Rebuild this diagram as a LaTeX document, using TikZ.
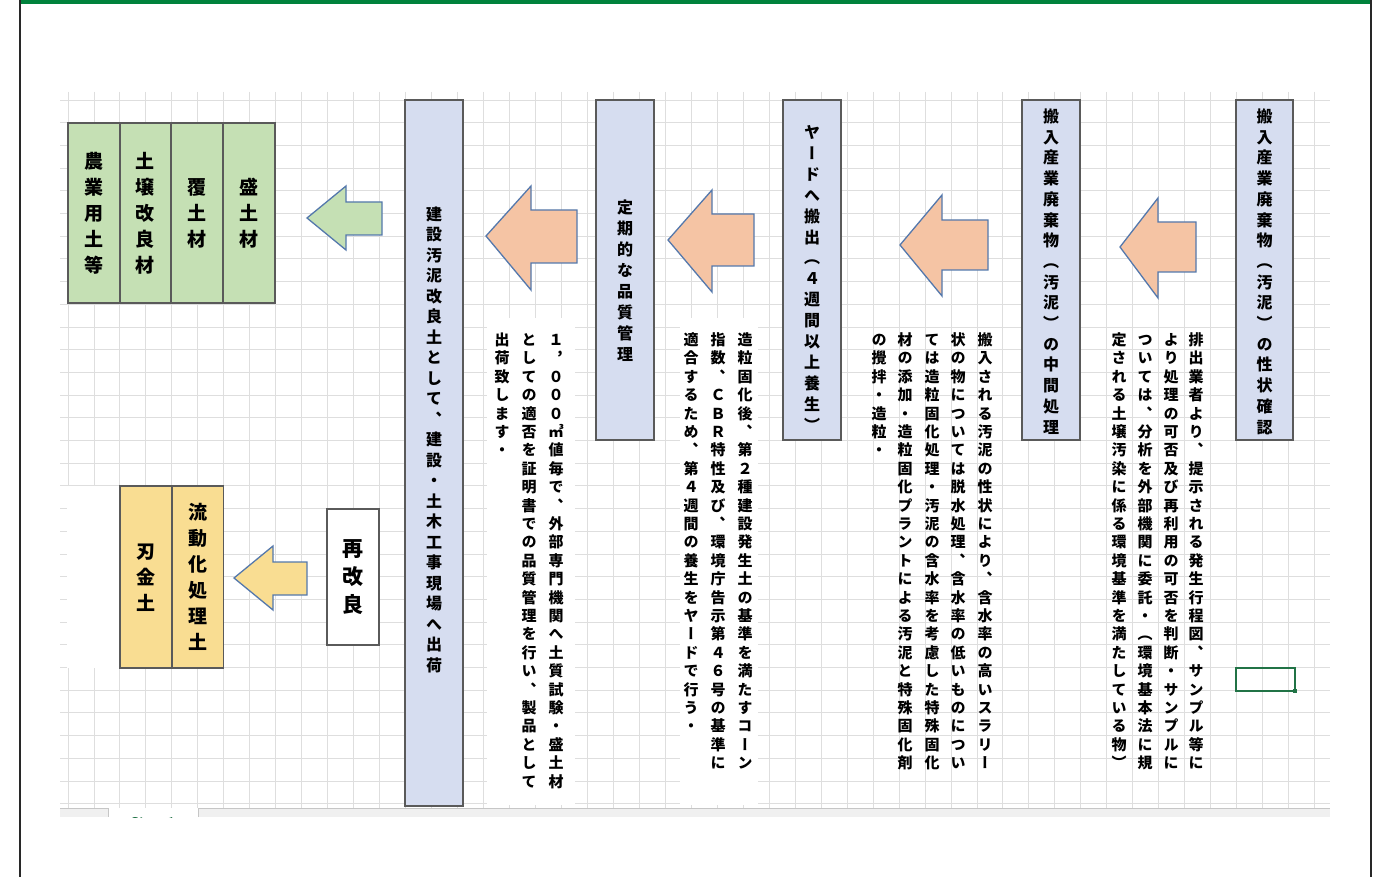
\documentclass[tikz,border=0pt]{standalone}
\usepackage{fontspec}
\newfontfamily\jp{Noto Sans CJK JP}[RawFeature=+vert]
\definecolor{lav}{RGB}{214,221,240}
\definecolor{boxline}{RGB}{90,90,90}
\definecolor{salmon}{RGB}{245,196,164}
\definecolor{arrline}{RGB}{84,120,172}
\definecolor{lgreen}{RGB}{197,224,180}
\definecolor{lyellow}{RGB}{249,221,146}
\definecolor{framegreen}{RGB}{0,130,60}
\definecolor{framedark}{RGB}{40,40,40}
\definecolor{gridc}{RGB}{222,222,222}
\definecolor{xlgreen}{RGB}{33,115,70}
\ExplSyntaxOn
\dim_new:N \l_vt_pitch_dim
\NewDocumentCommand \vtext { m m }
  {
    \dim_set:Nn \l_vt_pitch_dim {#1}
    \vbox:n
      {
        \offinterlineskip
        \tl_map_inline:nn {#2}
          {
            \hbox_to_wd:nn {1.2em}
              { \hss \vrule ~ height ~ 0.78\l_vt_pitch_dim ~ depth ~ 0.22\l_vt_pitch_dim ~ width ~ 0pt \relax ##1 \hss }
          }
      }
  }
\ExplSyntaxOff
\tikzset{
  gridline/.style={draw=gridc, line width=0.9pt},
  procbox/.style={draw=boxline, fill=lav, line width=1.6pt, inner sep=0pt},
  greenbox/.style={draw=boxline, fill=lgreen, line width=1.3pt, inner sep=0pt, minimum width=52pt, minimum height=180pt},
  yellowbox/.style={draw=boxline, fill=lyellow, line width=1.3pt, inner sep=0pt, minimum width=52pt, minimum height=182pt},
  ttl/.style={inner sep=0pt, font=\jp\bfseries\fontsize{16}{20}\selectfont},
  desc/.style={inner sep=0pt, anchor=north, font=\jp\bfseries\fontsize{15}{18}\selectfont},
  biglabel/.style={inner sep=0pt, font=\jp\bfseries\fontsize{19}{24}\selectfont},
  blockarrow/.style={draw=arrline, line width=1.3pt, line join=miter},
}
\begin{document}
\begin{tikzpicture}[x=1pt,y=-1pt]
\useasboundingbox (0,0) rectangle (1382,877);
\fill[white] (0,0) rectangle (1382,877);
% spreadsheet grid
\foreach \k in {0,...,48} \draw[gridline] ({68+25.97*\k},92) -- ({68+25.97*\k},808);
\foreach \k in {0,...,31} \draw[gridline] (60,{100+22.7*\k}) -- (1330,{100+22.7*\k});
% white text areas covering the grid
\fill[white] (67,486) rectangle (120,668);
\fill[white] (680,318) rectangle (758,805);
\fill[white] (487,318) rectangle (575,805);
% sheet tab bar
\fill[gray!12] (60,808) rectangle (1330,817);
\draw[gray!45, line width=0.8pt] (60,808) -- (1330,808);
\fill[white] (108,808) rectangle (198,817);
\draw[gray!45, line width=0.8pt] (108,808) -- (108,817) (198,808) -- (198,817);
\begin{scope}
\clip (60,808) rectangle (1330,817);
\node[text=xlgreen, font=\sffamily\bfseries\fontsize{14}{14}\selectfont, inner sep=0pt] (tab) at (153,823) {Sheet1};
\end{scope}
% frame
\fill[framegreen] (19,0) rectangle (1371,4);
\draw[framedark, line width=2.2pt] (20,0) -- (20,877);
\draw[framedark, line width=2.2pt] (1371,0) -- (1371,877);

% process boxes
\node[procbox, minimum width=57pt, minimum height=340pt] (b1) at (1264.5,270) {};
\node[ttl] (t1) at (1264.5,272) {\vtext{20.7pt}{搬入産業廃棄物（汚泥）の性状確認}};
\node[procbox, minimum width=58pt, minimum height=340pt] (b2) at (1051,270) {};
\node[ttl] (t2) at (1051,272) {\vtext{20.7pt}{搬入産業廃棄物（汚泥）の中間処理}};
\node[procbox, minimum width=58pt, minimum height=340pt] (b3) at (812,270) {};
\node[ttl] (t3) at (812,279) {\vtext{20.9pt}{ヤードへ搬出（４週間以上養生）}};
\node[procbox, minimum width=58pt, minimum height=340pt] (b4) at (625,270) {};
\node[ttl] (t4) at (625,281) {\vtext{21pt}{定期的な品質管理}};
\node[procbox, minimum width=58pt, minimum height=706pt] (b5) at (434,453) {};
\node[ttl] (t5) at (434,440) {\vtext{20.5pt}{建設汚泥改良土として、建設・土木工事現場へ出荷}};

% block arrows
\draw[blockarrow, fill=salmon] (1120,247) -- (1158,198) -- (1158,222) -- (1196,222) -- (1196,272) -- (1158,272) -- (1158,298) -- cycle;
\draw[blockarrow, fill=salmon] (900,245) -- (942,195) -- (942,220) -- (988,220) -- (988,270) -- (942,270) -- (942,296) -- cycle;
\draw[blockarrow, fill=salmon] (668,240) -- (712,190) -- (712,214) -- (754,214) -- (754,266) -- (712,266) -- (712,292) -- cycle;
\draw[blockarrow, fill=salmon] (486,236) -- (531,186) -- (531,210) -- (577,210) -- (577,263) -- (531,263) -- (531,290) -- cycle;
\draw[blockarrow, fill=lgreen] (307,218) -- (346,186) -- (346,202) -- (382,202) -- (382,235) -- (346,235) -- (346,250) -- cycle;
\draw[blockarrow, fill=lyellow] (234,578) -- (273,546) -- (273,562) -- (307,562) -- (307,595) -- (273,595) -- (273,610) -- cycle;

% descriptions
\node[desc] (d1a) at (1196,331) {\vtext{18.4pt}{排出業者より、提示される発生行程図、サンプル等に}};
\node[desc] (d1b) at (1171,331) {\vtext{18.4pt}{より処理の可否及び再利用の可否を判断・サンプルに}};
\node[desc] (d1c) at (1145,331) {\vtext{18.4pt}{ついては、分析を外部機関に委託・（環境基本法に規}};
\node[desc] (d1d) at (1119,331) {\vtext{18.4pt}{定される土壌汚染に係る環境基準を満たしている物）}};

\node[desc] (d2a) at (985,331) {\vtext{18.4pt}{搬入される汚泥の性状により、含水率の高いスラリー}};
\node[desc] (d2b) at (958,331) {\vtext{18.4pt}{状の物については脱水処理、含水率の低いものについ}};
\node[desc] (d2c) at (932,331) {\vtext{18.4pt}{ては造粒固化処理・汚泥の含水率を考慮した特殊固化}};
\node[desc] (d2d) at (905,331) {\vtext{18.4pt}{材の添加・造粒固化プラントによる汚泥と特殊固化剤}};
\node[desc] (d2e) at (879,331) {\vtext{18.4pt}{の攪拌・造粒・}};

\node[desc] (d3a) at (745,331) {\vtext{18.4pt}{造粒固化後、第２種建設発生土の基準を満たすコーン}};
\node[desc] (d3b) at (718,331) {\vtext{18.4pt}{指数、ＣＢＲ特性及び、環境庁告示第４６号の基準に}};
\node[desc] (d3c) at (691,331) {\vtext{18.4pt}{適合するため、第４週間の養生をヤードで行う・}};

\node[desc] (d4a) at (556,331) {\vtext{18.4pt}{１，０００㎥値毎で、外部専門機関へ土質試験・盛土材}};
\node[desc] (d4b) at (529,331) {\vtext{18.4pt}{としての適否を証明書での品質管理を行い、製品として}};
\node[desc] (d4c) at (502,331) {\vtext{18.4pt}{出荷致します・}};

% products (green)
\node[greenbox] (g4) at (249,213) {};
\node[greenbox] (g3) at (197,213) {};
\node[greenbox] (g2) at (145,213) {};
\node[greenbox] (g1) at (94,213) {};
\node[biglabel] at (g4.center) {\vtext{26pt}{盛土材}};
\node[biglabel] at (g3.center) {\vtext{26pt}{覆土材}};
\node[biglabel] at (g2.center) {\vtext{26pt}{土壌改良材}};
\node[biglabel] at (g1.center) {\vtext{26pt}{農業用土等}};

% products (yellow)
\node[yellowbox] (y2) at (197.5,577) {};
\node[yellowbox] (y1) at (146,577) {};
\node[biglabel] at (y2.center) {\vtext{26pt}{流動化処理土}};
\node[biglabel] at (y1.center) {\vtext{26pt}{刃金土}};

% re-improvement
\node[draw=boxline, fill=white, line width=1.3pt, minimum width=52pt, minimum height=136pt, inner sep=0pt] (re) at (353,577) {};
\node[inner sep=0pt, font=\jp\bfseries\fontsize{21}{26}\selectfont] at (re.center) {\vtext{28pt}{再改良}};

% selected cell
\draw[xlgreen, line width=1.4pt] (1236,668) rectangle (1295,691);
\fill[xlgreen] (1293,689) rectangle (1297,693);
\end{tikzpicture}
\end{document}
